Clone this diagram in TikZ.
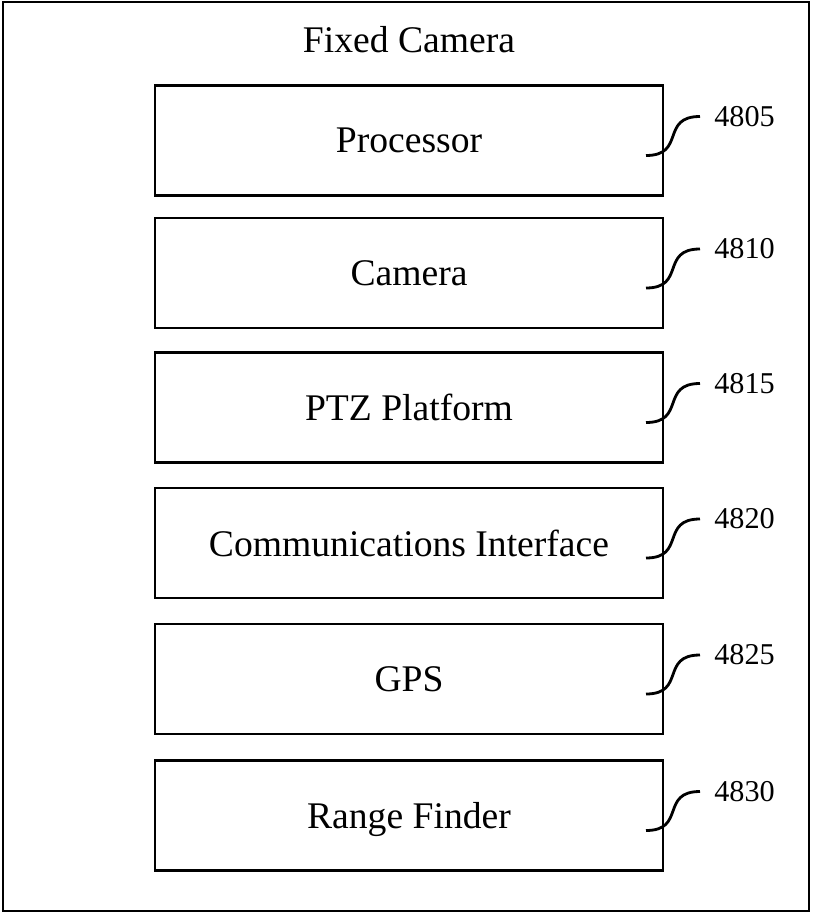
\documentclass[tikz,border=0pt]{standalone}
\usepackage{fontspec}
\setmainfont{Liberation Serif}

\begin{document}
\begin{tikzpicture}[x=0.025cm, y=-0.025cm,
    unit/.style={draw=black, line width=2pt, minimum width=12.7cm,
        minimum height=2.75cm, inner sep=0pt, text depth=0pt,
        font=\fontsize{26.75}{30}\selectfont},
    refnum/.style={font=\fontsize{21.5}{24}\selectfont, anchor=west,
        inner sep=0pt},
    leader/.style={line width=2pt},
    heading/.style={font=\fontsize{26.75}{30}\selectfont},
]
\useasboundingbox (0,0) rectangle (812,913);

% === Column positions ===
\def\colA{409}     % Blocks
\def\colB{714}     % Reference numbers
\def\lx{646}       % Leader start

% Outer frame
\draw[line width=1.5pt] (3,2) rectangle (809,911);

% === Title ===
\node[heading] (title) at (\colA, 40) {Fixed Camera};

% === Row 1: Processor ===
\def\rowA{140.5}
\node[unit] (proc) at (\colA, \rowA) {Processor};
\node[refnum] (r4805) at (\colB, {\rowA-24}) {4805};
\coordinate (lA) at (\lx, {\rowA+15});
\draw[leader] (lA) .. controls +(40,0) and +(-40,0) .. ([xshift=-0.35cm]r4805.west);

% === Row 2: Camera ===
\def\rowB{273}
\node[unit] (cam) at (\colA, \rowB) {Camera};
\node[refnum] (r4810) at (\colB, {\rowB-24}) {4810};
\coordinate (lB) at (\lx, {\rowB+15});
\draw[leader] (lB) .. controls +(40,0) and +(-40,0) .. ([xshift=-0.35cm]r4810.west);

% === Row 3: PTZ Platform ===
\def\rowC{407.5}
\node[unit] (ptz) at (\colA, \rowC) {PTZ Platform};
\node[refnum] (r4815) at (\colB, {\rowC-24}) {4815};
\coordinate (lC) at (\lx, {\rowC+15});
\draw[leader] (lC) .. controls +(40,0) and +(-40,0) .. ([xshift=-0.35cm]r4815.west);

% === Row 4: Communications Interface ===
\def\rowD{543}
\node[unit] (comm) at (\colA, \rowD) {Communications Interface};
\node[refnum] (r4820) at (\colB, {\rowD-24}) {4820};
\coordinate (lD) at (\lx, {\rowD+15});
\draw[leader] (lD) .. controls +(40,0) and +(-40,0) .. ([xshift=-0.35cm]r4820.west);

% === Row 5: GPS ===
\def\rowE{679}
\node[unit] (gps) at (\colA, \rowE) {GPS};
\node[refnum] (r4825) at (\colB, {\rowE-24}) {4825};
\coordinate (lE) at (\lx, {\rowE+15});
\draw[leader] (lE) .. controls +(40,0) and +(-40,0) .. ([xshift=-0.35cm]r4825.west);

% === Row 6: Range Finder ===
\def\rowF{815.5}
\node[unit] (range) at (\colA, \rowF) {Range Finder};
\node[refnum] (r4830) at (\colB, {\rowF-24}) {4830};
\coordinate (lF) at (\lx, {\rowF+15});
\draw[leader] (lF) .. controls +(40,0) and +(-40,0) .. ([xshift=-0.35cm]r4830.west);

\end{tikzpicture}
\end{document}
